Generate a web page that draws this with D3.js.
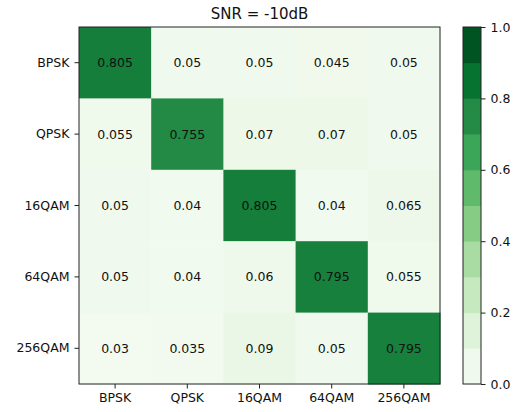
<!DOCTYPE html>
<html>
<head>
<meta charset="utf-8">
<script src="https://cdn.jsdelivr.net/npm/d3@7"></script>
<style>
  body { margin: 0; background: #fff; }
  text { font-family: "DejaVu Sans", sans-serif; fill: #111; }
</style>
</head>
<body>
<svg id="chart" width="519" height="412"></svg>
<script>
// classes, rows = true label, columns = predicted label
var classes = ["BPSK", "QPSK", "16QAM", "64QAM", "256QAM"];
var matrix = [
    [0.805, 0.05, 0.05, 0.045, 0.05],
    [0.055, 0.755, 0.07, 0.07, 0.05],
    [0.05, 0.04, 0.805, 0.04, 0.065],
    [0.05, 0.04, 0.06, 0.795, 0.055],
    [0.03, 0.035, 0.09, 0.05, 0.795]
];
var colorTicks = [0.0, 0.2, 0.4, 0.6, 0.8, 1.0];
var colorBands = d3.range(10).map(i => i / 10);  // 10 discrete levels
var title = "SNR = -10dB";

// matplotlib "Greens" anchor colours
var greensStops = ["#f7fcf5", "#e5f5e0", "#c7e9c0", "#a1d99b", "#74c476", "#41ab5d", "#238b45", "#006d2c", "#00441b"];
var greens = d3.scaleLinear()
    .domain(d3.range(9).map(i => i / 8))
    .range(greensStops)
    .interpolate(d3.interpolateRgb);

var svg = d3.select("#chart");
var plot = {left: 79, right: 440, top: 27, bottom: 384};

var x = d3.scaleBand().domain(classes).range([plot.left, plot.right]);
var y = d3.scaleBand().domain(classes).range([plot.top, plot.bottom]);

var cells = [];
matrix.forEach((row, i) => row.forEach((v, j) => cells.push({r: classes[i], c: classes[j], v: v})));

svg.append("g").selectAll("rect")
    .data(cells)
    .enter().append("rect")
        .attr("x", d => x(d.c))
        .attr("y", d => y(d.r))
        .attr("width", x.bandwidth() + 0.5)
        .attr("height", y.bandwidth() + 0.5)
        .attr("fill", d => greens(d.v));

svg.append("g").selectAll("text")
    .data(cells)
    .enter().append("text")
        .attr("x", d => x(d.c) + x.bandwidth() / 2)
        .attr("y", d => y(d.r) + y.bandwidth() / 2)
        .attr("text-anchor", "middle")
        .attr("dominant-baseline", "central")
        .style("font-size", "12.5px")
        .text(d => d.v);

// frame
svg.append("rect")
    .attr("x", plot.left).attr("y", plot.top)
    .attr("width", plot.right - plot.left).attr("height", plot.bottom - plot.top)
    .attr("fill", "none").attr("stroke", "#222").attr("stroke-width", 1);

var xAxis = svg.append("g")
    .attr("transform", "translate(0," + plot.bottom + ")")
    .call(d3.axisBottom(x).tickSize(4.5).tickPadding(5));
var yAxis = svg.append("g")
    .attr("transform", "translate(" + plot.left + ",0)")
    .call(d3.axisLeft(y).tickSize(4.5).tickPadding(5));
[xAxis, yAxis].forEach(g => {
    g.select(".domain").remove();
    g.selectAll("line").attr("stroke", "#222");
    g.selectAll("text").style("font-size", "12.5px").style("font-family", "DejaVu Sans").attr("fill", "#111");
});

svg.append("text")
    .attr("x", (plot.left + plot.right) / 2)
    .attr("y", 19)
    .attr("text-anchor", "middle")
    .style("font-size", "15px")
    .text(title);

// colorbar
var cb = {left: 463, right: 481};
var cy = d3.scaleLinear().domain([0, 1]).range([plot.bottom, plot.top]);
svg.append("g").selectAll("rect")
    .data(colorBands)
    .enter().append("rect")
        .attr("x", cb.left)
        .attr("y", d => cy(d + 0.1))
        .attr("width", cb.right - cb.left)
        .attr("height", d => cy(d) - cy(d + 0.1) + 0.5)
        .attr("fill", d => greens(d + 0.05));
svg.append("rect")
    .attr("x", cb.left).attr("y", plot.top)
    .attr("width", cb.right - cb.left).attr("height", plot.bottom - plot.top)
    .attr("fill", "none").attr("stroke", "#222").attr("stroke-width", 1);
var cAxis = svg.append("g")
    .attr("transform", "translate(" + cb.right + ",0)")
    .call(d3.axisRight(cy).tickValues(colorTicks).tickFormat(d3.format(".1f")).tickSize(4.5).tickPadding(5));
cAxis.select(".domain").remove();
cAxis.selectAll("line").attr("stroke", "#222");
cAxis.selectAll("text").style("font-size", "12.5px").style("font-family", "DejaVu Sans").attr("fill", "#111");
</script>
</body>
</html>
